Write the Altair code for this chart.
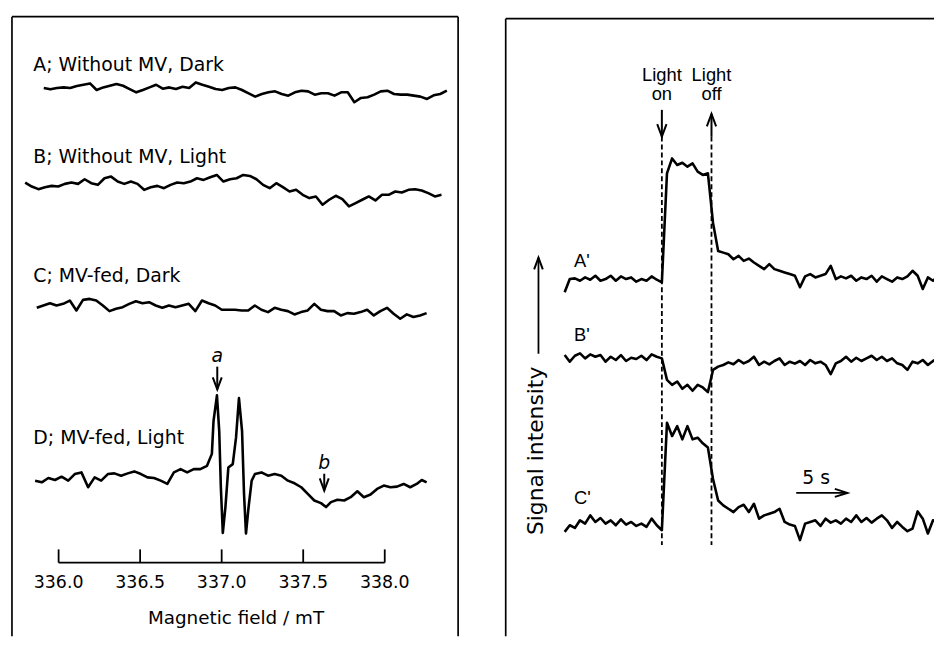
import altair as alt
import numpy as np
import pandas as pd

FONT = "DejaVu Sans"
FONT_R = "Liberation Sans"

# ---------------- Left panel data: EPR spectra ----------------
FIELD_TICKS = [336.0, 336.5, 337.0, 337.5, 338.0]
FIELD_TICK_LABELS = ["336.0", "336.5", "337.0", "337.5", "338.0"]
SPECTRUM_LABELS = ["A; Without MV, Dark", "B; Without MV, Light",
                   "C; MV-fed, Dark", "D; MV-fed, Light"]

A_FIELD_RANGE = [335.909, 338.381]
A_SIGNAL = [8, 4, 8, 10, 8, 14, 18, 22, 2, 10, 15, 20, 15, 5, -5, 2, 10, 18, 6, 10,
            5, 12, 8, 25, 18, 12, 5, 2, 8, 10, 2, -8, -18, -10, -5, -2, -10, -15, -5, 0,
            -2, -12, -8, -8, -15, -5, -5, -35, -22, -20, -12, -2, 0, -10, -12, -12, -15,
            -18, -25, -14, -10, 0]

B_FIELD_RANGE = [335.795, 338.348]
B_SIGNAL = [12, 0, -8, -2, 2, 0, 8, 12, 8, 22, 10, 5, 25, 30, 15, 8, 15, 8, -10, -2,
            2, -5, 5, 12, 10, 15, 25, 20, 28, 35, 15, 22, 25, 35, 32, 22, 5, -5, 10, -2,
            -15, -10, -25, -35, -30, -55, -40, -28, -38, -60, -50, -40, -30, -42, -25,
            -25, -15, -18, -10, -8, -12, -20, -30, -25]

C_FIELD_RANGE = [335.866, 338.257]
C_SIGNAL = [3, 10, 17, 10, 15, 25, -5, 27, 30, 25, 10, -7, 0, 5, 15, 23, 17, 20, 10, 3,
            10, 5, 10, 15, -7, 25, 17, 10, -3, -3, -3, -5, -5, 10, -3, -10, 3, -3, -7, -17,
            -10, -5, 15, -3, -7, -7, -20, -13, -15, -10, -3, -20, -7, 3, -15, -30, -17,
            -25, -20, -13]

D_FIELD = [335.856, 335.897, 335.937, 335.978, 336.018, 336.059, 336.099, 336.140,
           336.181, 336.221, 336.261, 336.302, 336.342, 336.383, 336.424, 336.464,
           336.505, 336.545, 336.585, 336.626, 336.667, 336.707, 336.748, 336.788,
           336.829, 336.869, 336.910, 336.940, 336.950, 336.971, 336.985, 336.995,
           337.007, 337.023, 337.041, 337.068, 337.088, 337.106, 337.125, 337.137,
           337.149, 337.165, 337.184, 337.204, 337.244, 337.284, 337.325, 337.366,
           337.406, 337.447, 337.488, 337.528, 337.568, 337.609, 337.640, 337.670,
           337.710, 337.751, 337.791, 337.832, 337.872, 337.913, 337.953, 337.994,
           338.035, 338.075, 338.116, 338.156, 338.196, 338.227, 338.257]
D_SIGNAL = [0, -5, 8, 2, 12, 0, 20, 25, -20, 10, 0, 20, 22, 15, 22, 28, 20, 10, 8, 0,
            -10, 25, 35, 25, 35, 35, 45, 81, 180, 258, 150, -20, -158, -80, 40, 50, 130,
            250, 150, -39, -160, -80, 0, 20, 25, 15, 20, 15, 0, -8, -20, -40, -60, -68,
            -80, -65, -58, -60, -50, -32, -50, -42, -25, -15, -20, -18, -10, -20, -10, 2, -5]

PEAK_MARKS = ["a", "b"]
PEAK_FIELDS = [336.973, 337.629]

# ---------------- Right panel data: time courses ----------------
KINETIC_LABELS = ["A'", "B'", "C'"]
T_START = -9.5
T_STEP = 0.5
A2_SIGNAL = [-40, 0, 2, -5, 5, -2, 10, -5, 0, 10, -5, 8, 0, 5, -8, 0, -5, 8, -2, -10,
             320, 365, 345, 352, 340, 350, 325, 315, 320,
             170, 85, 80, 75, 60, 70, 55, 62, 50, 40, 30, 45, 30, 25, 20, 15, 10, -25, 8,
             15, 5, 10, 15, 40, 0, 8, 2, 10, -5, 5, 0, 10, -8, 8, 0, -8, 5, 0, 8, 25, 10,
             -30, 5, -5, 8, -5]
B2_SIGNAL = [10, -10, 8, 15, 0, 12, 5, 10, -10, 5, -5, 10, -8, 2, -2, 8, -5, 12, 5, 0,
             -65, -80, -70, -92, -80, -98, -80, -88, -102,
             -35, -25, -20, -12, -18, -5, -15, -8, 5, -20, -10, -18, -8, 0, -20, -10, -16,
             -8, -20, -5, -15, -10, -20, -48, -15, -8, 5, -10, 2, -8, 0, 8, -5, 5, -8, 0,
             -15, -20, -35, -10, -15, -5, -20, -8, 0, 5]
C2_SIGNAL = [-25, -5, -13, 10, 0, 25, 5, 17, 0, 10, -5, 13, -3, 5, -7, 0, -10, 15, -5, -20,
             305, 265, 295, 255, 295, 255, 260, 243, 230,
             135, 70, 55, 45, 35, 50, 57, 35, 60, 15, 25, 30, 35, 45, 5, -3, -7, -50, 0, 5,
             10, -7, 15, 3, 10, 0, 15, 5, 25, 5, 17, 3, 15, 25, 10, -13, 5, -10, -23, -15,
             37, 15, -30, 10, 5, 20]
LIGHT_TIMES = [0.0, 4.85]
LIGHT_TEXT = [["Light", "on"], ["Light", "off"]]
SCALE_BAR_SECONDS = 5.0

# ---------------- layout (vertical a.u. positions) ----------------
SPEC_OFFSETS = [1726, 1436, 1066, 546]
SPEC_LABEL_Y = [1786, 1506, 1148, 656]
KIN_OFFSETS = [1156, 916, 416]
KIN_LABEL_Y = [1191, 968, 476]

LW, LH = 450, 625
RW, RH = 432, 625
XL = alt.Scale(domain=[335.714, 338.450], nice=False, zero=False)
XR = alt.Scale(domain=[-15.262, 26.599], nice=False, zero=False)
YS = alt.Scale(domain=[75, 1950], nice=False, zero=False)

HEAD_DOWN = "M-0.37,-1L0,0L0.37,-1"
HEAD_UP = "M-0.37,1L0,0L0.37,1"
HEAD_RIGHT = "M-1,-0.32L0,0L-1,0.32"
TRACE_W = 2.6


def X(scale, field="x"):
    return alt.X(f"{field}:Q", scale=scale, axis=None)


def Y(field="y"):
    return alt.Y(f"{field}:Q", scale=YS, axis=None)


def texts(df, xs, font=FONT, **kw):
    return alt.Chart(df).mark_text(font=font, color="black", **kw).encode(
        x=X(xs), y=Y(), text="label:N")


def vrule(df, xs, **kw):
    return alt.Chart(df).mark_rule(color="black", **kw).encode(
        x=X(xs), y=Y(), y2="y2:Q")


def head(df, xs, shape, size):
    return alt.Chart(df).mark_point(shape=shape, size=size, filled=False, opacity=1,
                                    stroke="black", strokeWidth=2).encode(x=X(xs), y=Y())


one = pd.DataFrame({"k": [0]})


def frame(w, h, top=0):
    return [
        alt.Chart(one).mark_rule(color="black", strokeWidth=1.7).encode(
            x=alt.value(0), y=alt.value(top), y2=alt.value(h)),
        alt.Chart(one).mark_rule(color="black", strokeWidth=1.7).encode(
            x=alt.value(0), x2=alt.value(w), y=alt.value(top)),
    ]


# ---- left panel ----
rows = []
for name, sig, rng, off in [("A", A_SIGNAL, A_FIELD_RANGE, SPEC_OFFSETS[0]),
                            ("B", B_SIGNAL, B_FIELD_RANGE, SPEC_OFFSETS[1]),
                            ("C", C_SIGNAL, C_FIELD_RANGE, SPEC_OFFSETS[2])]:
    fx = np.linspace(rng[0], rng[1], len(sig))
    for i, (f, s) in enumerate(zip(fx, sig)):
        rows.append({"trace": name, "i": i, "x": f, "y": off + s})
for i, (f, s) in enumerate(zip(D_FIELD, D_SIGNAL)):
    rows.append({"trace": "D", "i": i, "x": f, "y": SPEC_OFFSETS[3] + s})
spec = pd.DataFrame(rows)

spec_lines = alt.Chart(spec).mark_line(color="black", strokeWidth=TRACE_W, strokeJoin="round").encode(
    x=X(XL), y=Y(), detail="trace:N", order="i:Q")

axis_line = alt.Chart(pd.DataFrame({"x": [FIELD_TICKS[0]], "x2": [FIELD_TICKS[-1]], "y": [298]})).mark_rule(
    color="black", strokeWidth=1.8).encode(x=X(XL), x2="x2:Q", y=Y())
ticks = vrule(pd.DataFrame({"x": FIELD_TICKS, "y": [298] * 5, "y2": [338] * 5}), XL, strokeWidth=1.8)
tick_labels = texts(pd.DataFrame({"x": FIELD_TICKS, "y": [222] * 5, "label": FIELD_TICK_LABELS}), XL,
                    fontSize=17.5, align="center", baseline="alphabetic")
axis_title = texts(pd.DataFrame({"x": [337.088], "y": [111], "label": ["Magnetic field / mT"]}), XL,
                   fontSize=18.5, align="center", baseline="alphabetic")
spec_labels = texts(pd.DataFrame({"x": [335.845] * 4, "y": SPEC_LABEL_Y, "label": SPECTRUM_LABELS}), XL,
                    fontSize=19, align="left", baseline="alphabetic")
peak_letters = texts(pd.DataFrame({"x": PEAK_FIELDS, "y": [906, 582], "label": PEAK_MARKS}), XL,
                     fontSize=19, fontStyle="italic", align="center", baseline="alphabetic")
peak_shafts = vrule(pd.DataFrame({"x": PEAK_FIELDS, "y": [891, 567], "y2": [822, 516]}), XL, strokeWidth=2)
peak_heads = head(pd.DataFrame({"x": PEAK_FIELDS, "y": [822, 516]}), XL, HEAD_DOWN, 600)

left = alt.layer(*frame(LW, LH),
                 alt.Chart(one).mark_rule(color="black", strokeWidth=1.7).encode(
                     x=alt.value(LW), y=alt.value(0), y2=alt.value(LH)),
                 spec_lines, axis_line, ticks, tick_labels, axis_title, spec_labels,
                 peak_letters, peak_shafts, peak_heads).properties(width=LW, height=LH)

# ---- right panel ----
rows = []
for name, sig, off in [("A'", A2_SIGNAL, KIN_OFFSETS[0]), ("B'", B2_SIGNAL, KIN_OFFSETS[1]),
                       ("C'", C2_SIGNAL, KIN_OFFSETS[2])]:
    for i, s in enumerate(sig):
        rows.append({"trace": name, "i": i, "x": T_START + T_STEP * i, "y": off + s})
kin = pd.DataFrame(rows)

kin_lines = alt.Chart(kin).mark_line(color="black", strokeWidth=TRACE_W, strokeJoin="round", clip=True).encode(
    x=X(XR), y=Y(), detail="trace:N", order="i:Q")
dashes = vrule(pd.DataFrame({"x": LIGHT_TIMES, "y": [1587, 1587], "y2": [351, 351]}), XR,
               strokeWidth=1.8, strokeDash=[5, 3])
light_text = texts(pd.DataFrame({
    "x": [LIGHT_TIMES[0], LIGHT_TIMES[0], LIGHT_TIMES[1], LIGHT_TIMES[1]],
    "y": [1756, 1698, 1756, 1698],
    "label": [LIGHT_TEXT[0][0], LIGHT_TEXT[0][1], LIGHT_TEXT[1][0], LIGHT_TEXT[1][1]]}), XR,
    font=FONT_R, fontSize=18.5, align="center", baseline="alphabetic")
light_shafts = vrule(pd.DataFrame({"x": LIGHT_TIMES, "y": [1668, 1656], "y2": [1587, 1587]}), XR,
                     strokeWidth=2)
on_head = head(pd.DataFrame({"x": [LIGHT_TIMES[0]], "y": [1587]}), XR, HEAD_DOWN, 640)
off_head = head(pd.DataFrame({"x": [LIGHT_TIMES[1]], "y": [1656]}), XR, HEAD_UP, 640)

yarrow = vrule(pd.DataFrame({"x": [-12.06], "y": [1221], "y2": [930]}), XR, strokeWidth=1.8)
yarrow_head = head(pd.DataFrame({"x": [-12.06], "y": [1221]}), XR, HEAD_UP, 560)
ylabel = texts(pd.DataFrame({"x": [-12.3], "y": [636], "label": ["Signal intensity"]}), XR,
               fontSize=22, angle=270, align="center", baseline="middle")
kin_labels = texts(pd.DataFrame({"x": [-8.58] * 3, "y": KIN_LABEL_Y, "label": KINETIC_LABELS}), XR,
                   font=FONT_R, fontSize=18.5, align="left", baseline="alphabetic")
bar_t0 = 13.13
bar = alt.Chart(pd.DataFrame({"x": [bar_t0], "x2": [bar_t0 + SCALE_BAR_SECONDS], "y": [509]})).mark_rule(
    color="black", strokeWidth=1.8).encode(x=X(XR), x2="x2:Q", y=Y())
bar_head = head(pd.DataFrame({"x": [bar_t0 + SCALE_BAR_SECONDS], "y": [509]}), XR, HEAD_RIGHT, 640)
bar_text = texts(pd.DataFrame({"x": [bar_t0 + SCALE_BAR_SECONDS / 2 - 0.55], "y": [536],
                               "label": [f"{SCALE_BAR_SECONDS:g} s"]}), XR,
                 fontSize=19, align="center", baseline="alphabetic")

right = alt.layer(*frame(RW, RH, top=2), kin_lines, dashes, light_text, light_shafts, on_head, off_head,
                  yarrow, yarrow_head, ylabel, kin_labels, bar, bar_head, bar_text).properties(
    width=RW, height=RH)

chart = alt.hconcat(left, right, spacing=44).properties(
    padding={"left": 2, "top": 4, "right": 0, "bottom": 0}, background="white"
).configure_view(stroke="transparent")

chart.save("out.html", embed_options={"renderer": "svg", "actions": False})
